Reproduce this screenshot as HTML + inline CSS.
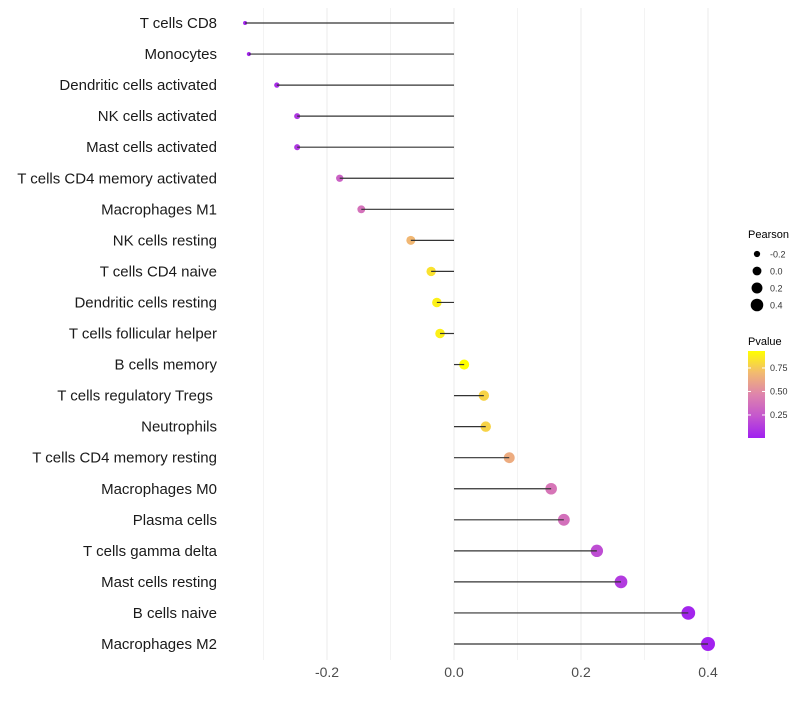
<!DOCTYPE html>
<html><head><meta charset="utf-8"><style>
body{margin:0;background:#fff;font-family:"Liberation Sans",sans-serif}
</style></head><body>
<svg id="chart" width="800" height="700" xmlns="http://www.w3.org/2000/svg">
<g id="grid"></g><g id="dots"></g><g id="stems"></g><g id="labels"></g><g id="legend"></g>
</svg>
<script>
const categories=["T cells CD8","Monocytes","Dendritic cells activated","NK cells activated","Mast cells activated","T cells CD4 memory activated","Macrophages M1","NK cells resting","T cells CD4 naive","Dendritic cells resting","T cells follicular helper","B cells memory","T cells regulatory  Tregs\u00a0","Neutrophils","T cells CD4 memory resting","Macrophages M0","Plasma cells","T cells gamma delta","Mast cells resting","B cells naive","Macrophages M2"];
const pearson=[-0.329,-0.323,-0.279,-0.247,-0.247,-0.180,-0.146,-0.068,-0.036,-0.027,-0.022,0.016,0.047,0.050,0.087,0.153,0.173,0.225,0.263,0.369,0.400];
const pvalue=[0.01,0.02,0.05,0.1,0.1,0.3,0.38,0.7,0.85,0.9,0.9,0.95,0.8,0.8,0.65,0.4,0.37,0.2,0.12,0.02,0.01];
const xTicks=[-0.2,0.0,0.2,0.4];
const legendSizes=[-0.2,0.0,0.2,0.4];
const legendP=[0.75,0.50,0.25];
const NS="http://www.w3.org/2000/svg";
const x=v=>454+v*635;
const y=i=>23+i*31.05;
const r=v=>Math.sqrt(Math.max(1,24.3+61.6*v));
const stops=[[0,[160,32,240]],[0.25,[196,86,206]],[0.5,[222,132,172]],[0.75,[242,186,112]],[1,[255,255,0]]];
function col(p){const t=Math.max(0,Math.min(1,p/0.95));
for(let k=1;k<stops.length;k++){if(t<=stops[k][0]){const [t0,a]=stops[k-1],[t1,b]=stops[k];const f=(t-t0)/(t1-t0);
return `rgb(${a.map((c,j)=>Math.round(c+(b[j]-c)*f)).join(",")})`;}}return 'rgb(255,255,0)';}
function el(tag,attrs,parent,text){const e=document.createElementNS(NS,tag);for(const k in attrs)e.setAttribute(k,attrs[k]);if(text!==undefined)e.textContent=text;parent.appendChild(e);return e;}
const grid=document.getElementById('grid'),dots=document.getElementById('dots'),stems=document.getElementById('stems'),labels=document.getElementById('labels'),legend=document.getElementById('legend');
[-0.3,-0.1,0.1,0.3].forEach(v=>{const g=el('line',{x1:x(v),x2:x(v),y1:8,y2:660,stroke:'#f3f3f3','stroke-width':1},grid);

});
xTicks.forEach(v=>{const g=el('line',{x1:x(v),x2:x(v),y1:8,y2:660,stroke:'#ebebeb','stroke-width':1},grid);


const t=el('text',{x:x(v),y:677,'text-anchor':'middle','font-size':14,fill:'#4d4d4d'},labels,v.toFixed(1));

});
categories.forEach((c,i)=>{const yy=y(i);
const d=el('circle',{cx:x(pearson[i]),cy:yy,r:r(pearson[i]),fill:col(pvalue[i])},dots);


const s=el('line',{x1:x(0),x2:x(pearson[i]),y1:yy,y2:yy,stroke:'#333','stroke-width':1.2},stems);


const t=el('text',{x:217,y:yy+5,'text-anchor':'end','font-size':15,fill:'#1a1a1a'},labels,c);
t.setAttribute('xml:space','preserve');

});
let t=el('text',{x:748,y:238,'font-size':11,fill:'#000'},legend,'Pearson');


legendSizes.forEach((v,k)=>{const yy=254+k*17;
const c=el('circle',{cx:757,cy:yy,r:r(v)*0.9,fill:'#000'},legend);


const l=el('text',{x:770,y:yy+3.5,'font-size':9,fill:'#333'},legend,v.toFixed(1));

});
t=el('text',{x:748,y:345,'font-size':11,fill:'#000'},legend,'Pvalue');


const defs=el('defs',{},legend);const lg=el('linearGradient',{id:'pg',x1:0,y1:1,x2:0,y2:0},defs);
[0,0.125,0.25,0.375,0.5,0.625,0.75,0.875,1].forEach(f=>el('stop',{offset:f,'stop-color':col(f*0.95)},lg));
const bar=el('rect',{x:748,y:351,width:17,height:87,fill:'url(#pg)'},legend);


legendP.forEach(p=>{const yy=438-(p-0.005)/0.25*23.5;
el('line',{x1:748,x2:751,y1:yy,y2:yy,stroke:'#fff'},legend);el('line',{x1:762,x2:765,y1:yy,y2:yy,stroke:'#fff'},legend);
const l=el('text',{x:770,y:yy+3,'font-size':9,fill:'#333'},legend,p.toFixed(2));

});
</script>
</body></html>
